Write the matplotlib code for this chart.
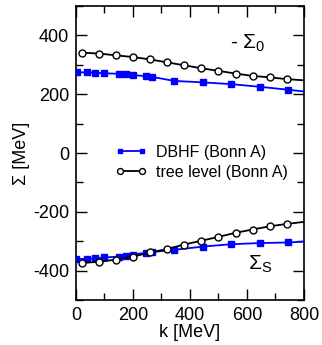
import numpy as np
import matplotlib
matplotlib.use("Agg")
import matplotlib.pyplot as plt
from matplotlib.ticker import MultipleLocator

plt.rcParams['font.family'] = ['Liberation Sans', 'DejaVu Sans']
plt.rcParams['mathtext.fontset'] = 'custom'
plt.rcParams['mathtext.rm'] = 'Liberation Sans'
plt.rcParams['axes.unicode_minus'] = False

# DBHF (Bonn A), -Sigma_0 ; last entry is the line end at 800
k_dbhf = [5, 40, 65, 100, 150, 175, 200, 245, 265, 345, 445, 545, 645, 745, 800]
s0_dbhf = [274, 274, 273, 271, 269, 268, 265, 261, 259, 245, 240, 234, 225, 215, 209]
k_dbhf_s = [0, 40, 65, 100, 150, 175, 200, 245, 265, 345, 445, 545, 645, 745, 800]
ss_dbhf = [-360, -360, -358, -355, -352, -349, -345, -339, -337, -329, -318, -310, -306, -304, -301]

# tree level (Bonn A)
k_tree = [20, 80, 140, 200, 260, 320, 380, 440, 500, 560, 620, 680, 740, 800]
s0_tree = [341, 338, 332, 326, 318, 308, 298, 288, 279, 270, 262, 257, 251, 247]
ss_tree = [-373, -370, -362, -352, -338, -326, -311, -298, -285, -271, -260, -249, -241, -234]

fig = plt.figure(figsize=(3.22, 3.45), dpi=100)
ax = fig.add_axes([0.236, 0.130, 0.708, 0.853])

pts_d = list(range(len(k_dbhf) - 1))
pts_t = list(range(len(k_tree) - 1))

ax.plot(k_dbhf, s0_dbhf, color='blue', lw=1.3, marker='s', ms=4, markevery=pts_d,
        label='DBHF (Bonn A)', zorder=3)
ax.plot(k_dbhf_s, ss_dbhf, color='blue', lw=1.3, marker='s', ms=4, markevery=pts_d, zorder=3)
ax.plot(k_tree, s0_tree, color='black', lw=1.3, marker='o', ms=5, mfc='white', mec='black',
        mew=1, markevery=pts_t, label='tree level (Bonn A)', zorder=4)
ax.plot(k_tree, ss_tree, color='black', lw=1.3, marker='o', ms=5, mfc='white', mec='black',
        mew=1, markevery=pts_t, zorder=4)

ax.set_xlim(0, 800)
ax.set_ylim(-500, 500)
ax.xaxis.set_major_locator(MultipleLocator(200))
ax.xaxis.set_minor_locator(MultipleLocator(100))
ax.yaxis.set_major_locator(MultipleLocator(200))
ax.yaxis.set_minor_locator(MultipleLocator(100))
ax.tick_params(which='both', direction='in', top=True, right=True, labelsize=13)
ax.tick_params(which='major', length=8, width=1, pad=5)
ax.tick_params(which='minor', length=5, width=1)
for sp in ax.spines.values():
    sp.set_linewidth(1.2)

ax.set_xlabel('k [MeV]', fontsize=13, labelpad=0)
ax.set_ylabel('Σ [MeV]', fontsize=13, labelpad=2)

ax.text(540, 372, '- Σ$_0$', fontsize=15, va='center')
ax.text(603, -378, 'Σ$_\\mathrm{S}$', fontsize=15, va='center')

leg = ax.legend(loc='center', bbox_to_anchor=(0.55, 0.469), frameon=False, fontsize=11.5,
                numpoints=2, markerscale=0.85, handlelength=2.0, handletextpad=0.55,
                labelspacing=0.3, borderpad=0)

fig.savefig('out.png', dpi=100)
